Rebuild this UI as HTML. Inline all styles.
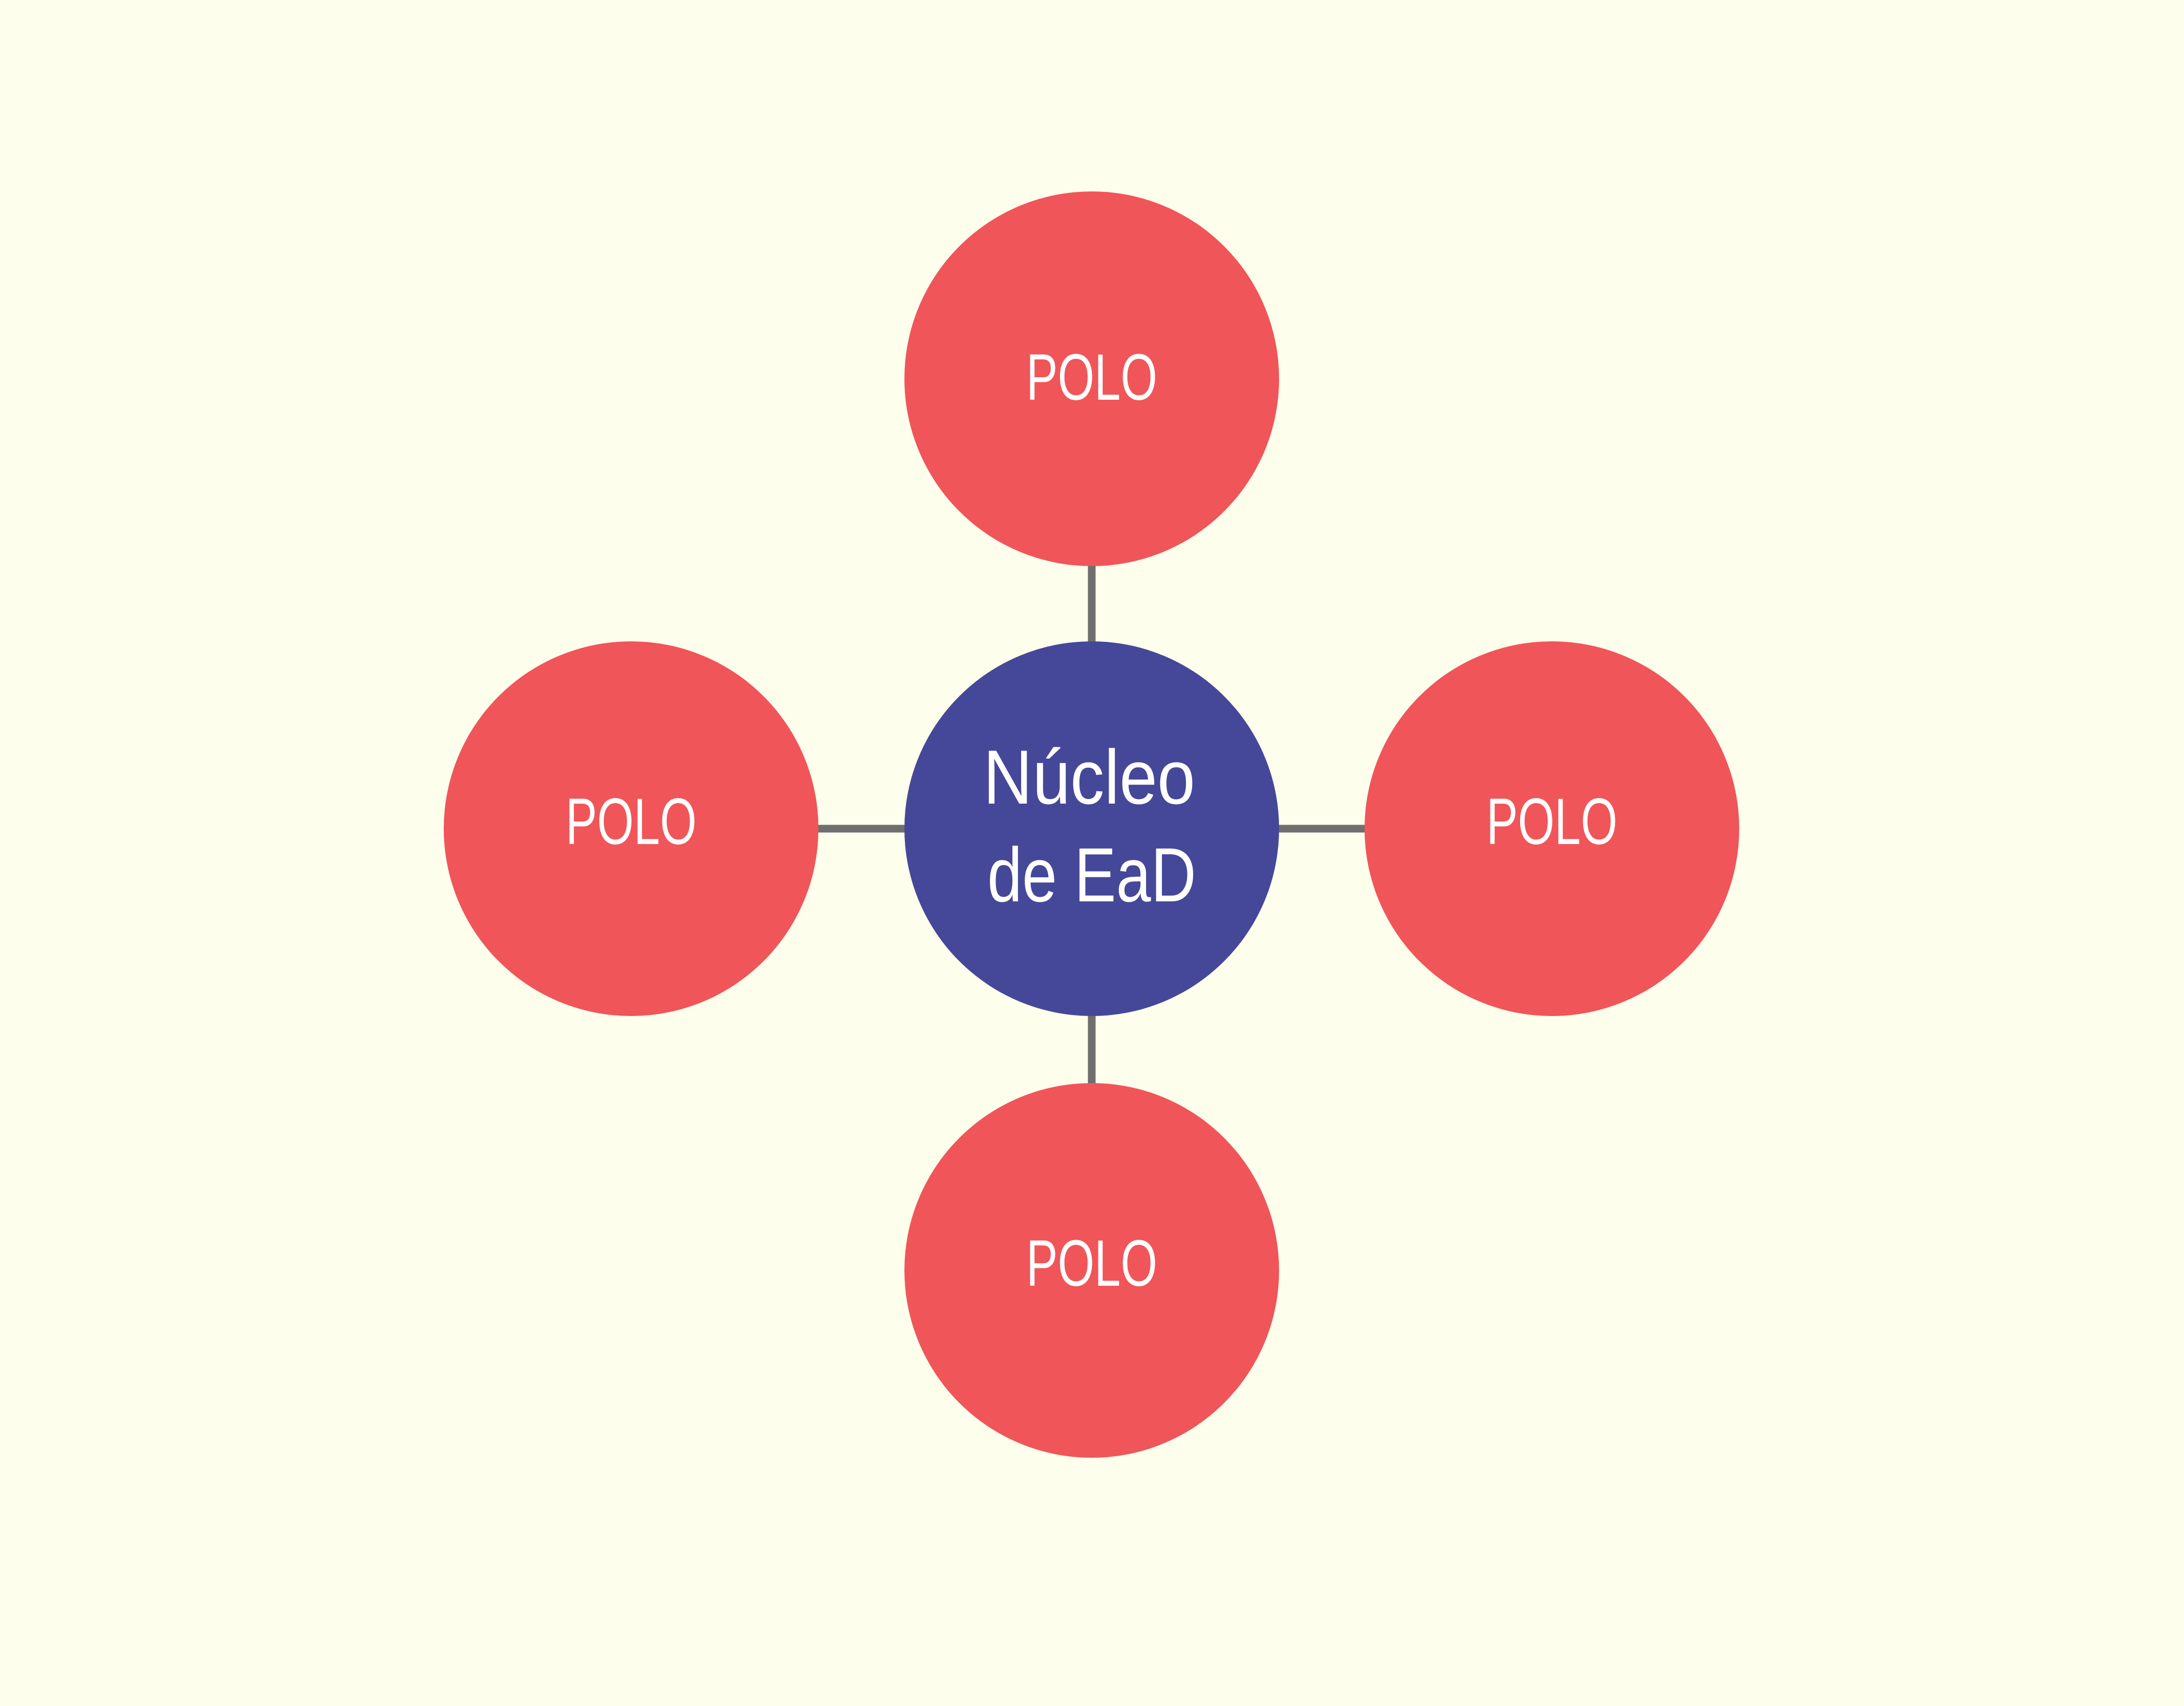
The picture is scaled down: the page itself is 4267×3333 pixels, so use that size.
<!DOCTYPE html>
<html><head><meta charset="utf-8"><style>
html,body{margin:0;padding:0;background:#fefeec;}
svg{display:block}
</style></head><body>
<svg width="4267" height="3333" viewBox="0 0 4267 3333" xmlns="http://www.w3.org/2000/svg">
<rect width="4267" height="3333" fill="#fefeec"/>
<g stroke="#6f6f6f" stroke-width="15">
<line x1="2133" y1="1000" x2="2133" y2="1300"/>
<line x1="2133" y1="1950" x2="2133" y2="2200"/>
<line x1="1560" y1="1619" x2="1800" y2="1619"/>
<line x1="2470" y1="1619" x2="2700" y2="1619"/>
</g>
<g fill="#f05559">
<circle cx="2133" cy="740" r="366"/>
<circle cx="1233" cy="1619" r="366"/>
<circle cx="3032" cy="1619" r="366"/>
<circle cx="2133" cy="2482" r="366"/>
</g>
<circle cx="2133" cy="1619" r="366" fill="#454898"/>
<g fill="#ffffff" font-family="Liberation Sans, sans-serif" font-size="128" text-anchor="middle">
<text x="2133" y="781" textLength="256" lengthAdjust="spacingAndGlyphs">POLO</text>
<text x="1233" y="1649" textLength="256" lengthAdjust="spacingAndGlyphs">POLO</text>
<text x="3032" y="1649" textLength="256" lengthAdjust="spacingAndGlyphs">POLO</text>
<text x="2133" y="2512" textLength="256" lengthAdjust="spacingAndGlyphs">POLO</text>
<text x="2128" y="1570" font-size="150" textLength="414" lengthAdjust="spacingAndGlyphs">Núcleo</text>
<text x="2133" y="1761" font-size="150" textLength="408" lengthAdjust="spacingAndGlyphs">de EaD</text>
</g>
</svg>
</body></html>
